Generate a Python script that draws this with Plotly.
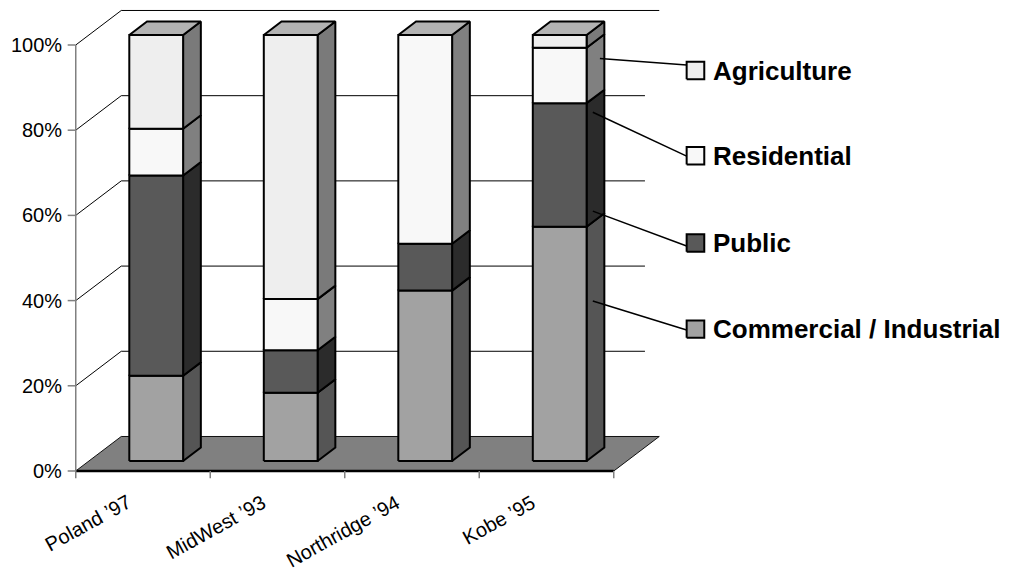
import plotly.graph_objects as go

# ---- data -------------------------------------------------------------
categories = ["Poland \u201997", "MidWest \u201993", "Northridge \u201994", "Kobe \u201995"]
commercial = [20, 16, 40, 55]
public = [47, 10, 11, 29]
residential = [11, 12, 49, 13]
agriculture = [22, 62, 0, 3]

y_ticks = [0, 20, 40, 60, 80, 100]
y_tick_labels = ["0%", "20%", "40%", "60%", "80%", "100%"]

series_names = ["Commercial / Industrial", "Public", "Residential", "Agriculture"]
series_values = [commercial, public, residential, agriculture]

# ---- styling ----------------------------------------------------------
FRONT = ["#a2a2a2", "#595959", "#f8f8f8", "#eeeeee"]
SIDE = ["#555555", "#2b2b2b", "#808080", "#7a7a7a"]
TOP = "#b3b3b3"
FLOOR = "#808080"
AXIS_GREY = "#808080"
FONT = "Arial, Liberation Sans, Helvetica, sans-serif"

# oblique projection: depth vector in data units (categories, percent)
DX, DY = 0.3383, 8.10
BAR_W = 0.40          # bar width in category units
BAR_FRONT = 0.29      # depth fraction of bar front face
BAR_DEPTH = 0.39      # depth fraction covered by a bar
GRID_END = 0.232      # how far past the last category the back gridlines reach

X_RANGE = [-1.0632, 6.4535]
Y_RANGE = [-24.18, 110.56]

# legend placement (data units)
LEGEND_Y = {"Agriculture": 94.0, "Residential": 74.0, "Public": 53.5,
            "Commercial / Industrial": 33.3}
LEADER_START = {"Agriculture": (0.75, 96.8), "Residential": (0.35, 84.2),
                "Public": (0.35, 61.0), "Commercial / Industrial": (0.35, 39.9)}
LEADER_END_Y = {"Agriculture": 95.3, "Residential": 73.9, "Public": 52.8,
                "Commercial / Industrial": 33.1}
SW_X0, SW_X1 = 4.042, 4.173
SW_H = 4.1
TEXT_X = 4.222

fig = go.Figure()


def proj(x, y, d):
    return x + d * DX, y + d * DY


def polygon(pts, fill, color="black", width=2):
    xs = [p[0] for p in pts] + [pts[0][0]]
    ys = [p[1] for p in pts] + [pts[0][1]]
    fig.add_trace(go.Scatter(x=xs, y=ys, mode="lines", fill="toself",
                             fillcolor=fill, line=dict(color=color, width=width),
                             hoverinfo="skip", showlegend=False))


def line(pts, color="black", width=1):
    fig.add_trace(go.Scatter(x=[p[0] for p in pts], y=[p[1] for p in pts],
                             mode="lines", line=dict(color=color, width=width),
                             hoverinfo="skip", showlegend=False))


n = len(categories)
x_lo, x_hi = -0.5, n - 0.5

# floor
polygon([proj(x_lo, 0, 0), proj(x_hi, 0, 0), proj(x_hi, 0, 1), proj(x_lo, 0, 1)],
        FLOOR, color="#111111", width=1)
line([proj(x_lo, 0, 0), proj(x_hi, 0, 0)], color="black", width=2.5)

# side wall and back wall gridlines
for v in y_ticks[1:]:
    line([proj(x_lo, v, 0), proj(x_lo, v, 1)], width=1)
    x_end = x_hi + DX if v == y_ticks[-1] else x_hi + GRID_END
    line([proj(x_lo, v, 1), (x_end, v + DY)], width=1)

# value axis with ticks
line([(x_lo, 0), (x_lo, 100)], color=AXIS_GREY, width=1.5)
for v in y_ticks:
    line([(x_lo - 0.06, v), (x_lo, v)], color=AXIS_GREY, width=1.5)
# category axis ticks
for k in range(n + 1):
    line([(x_lo + k, 0), (x_lo + k, -1.7)], color=AXIS_GREY, width=1.5)

# stacked 3-D bars
for i in range(n):
    total = sum(s[i] for s in series_values)
    xl, _ = proj(i - BAR_W / 2, 0, BAR_FRONT)
    xr = xl + BAR_W
    base = 0.0
    for s, vals in enumerate(series_values):
        h = 100.0 * vals[i] / total
        if h <= 0:
            continue
        top = base + h
        _, y0 = proj(0, base, BAR_FRONT)
        _, y1 = proj(0, top, BAR_FRONT)
        polygon([(xr, y0), proj(xr, y0, BAR_DEPTH), proj(xr, y1, BAR_DEPTH), (xr, y1)],
                SIDE[s])
        polygon([(xl, y0), (xr, y0), (xr, y1), (xl, y1)], FRONT[s])
        base = top
    _, yt = proj(0, 100, BAR_FRONT)
    polygon([(xl, yt), (xr, yt), proj(xr, yt, BAR_DEPTH), proj(xl, yt, BAR_DEPTH)], TOP)

# legend with leader lines to the last bar
last = n - 1
xl_last, _ = proj(last - BAR_W / 2, 0, BAR_FRONT)
xr_last = xl_last + BAR_W
annotations = []
for s, name in enumerate(series_names):
    dfrac, ys = LEADER_START[name]
    line([(xr_last + dfrac * BAR_DEPTH * DX, ys), (SW_X0, LEADER_END_Y[name])],
         width=1.5)
    yc = LEGEND_Y[name]
    polygon([(SW_X0, yc - SW_H / 2), (SW_X1, yc - SW_H / 2),
             (SW_X1, yc + SW_H / 2), (SW_X0, yc + SW_H / 2)], FRONT[s])
    annotations.append(dict(x=TEXT_X, y=yc, text="<b>%s</b>" % name, showarrow=False,
                            xanchor="left", yanchor="middle",
                            font=dict(family=FONT, size=26, color="black")))

# value axis labels
for v, lab in zip(y_ticks, y_tick_labels):
    annotations.append(dict(x=x_lo - 0.085, y=v, text=lab, showarrow=False,
                            xanchor="right", yanchor="middle",
                            font=dict(family=FONT, size=20, color="black")))

# category labels
for i, lab in enumerate(categories):
    annotations.append(dict(x=i - 0.04, y=-4.0, text=lab, showarrow=False,
                            xanchor="right", yanchor="top", textangle=-29,
                            font=dict(family=FONT, size=20, color="black")))

fig.update_layout(
    width=1011, height=574, margin=dict(l=0, r=0, t=0, b=0),
    paper_bgcolor="white", plot_bgcolor="white", showlegend=False,
    xaxis=dict(range=X_RANGE, visible=False, fixedrange=True),
    yaxis=dict(range=Y_RANGE, visible=False, fixedrange=True),
    annotations=annotations,
)

fig.write_html("out.html")
